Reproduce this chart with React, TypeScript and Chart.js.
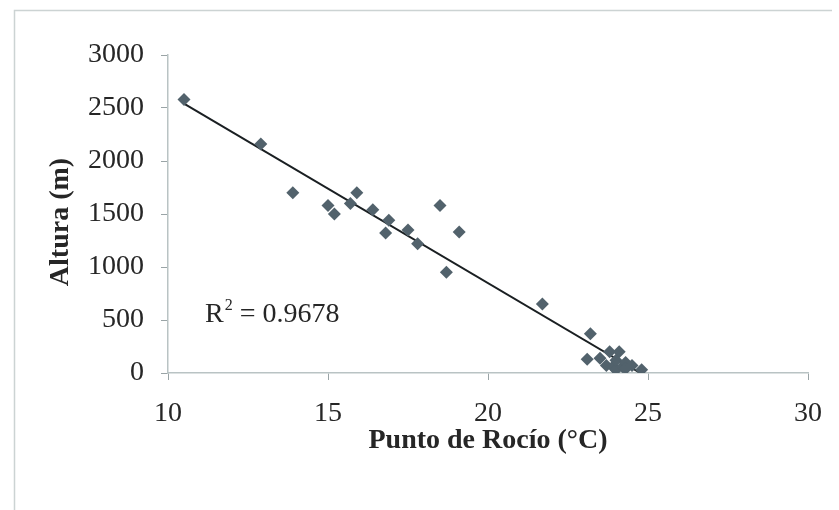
import React, { useEffect, useRef } from "react";
import { Chart, registerables } from "chart.js";

Chart.register(...registerables);

// Dew point (°C) and altitude (m) of each station
const dewPoint = [
  10.5, 12.9, 13.9, 15.0, 15.2, 15.7, 15.9, 16.4, 16.9, 16.8, 17.5, 17.8,
  18.5, 18.7, 19.1, 21.7, 23.2, 23.1, 23.5, 23.8, 24.1, 23.7, 23.9, 24.0,
  24.0, 24.2, 24.3, 24.3, 24.5, 24.8,
];
const altitude = [
  2580, 2160, 1700, 1580, 1500, 1600, 1700, 1540, 1440, 1320, 1350, 1220,
  1580, 950, 1330, 650, 370, 130, 140, 200, 200, 70, 60, 30, 120, 60, 100,
  40, 70, 30,
];

const xTicks = [10, 15, 20, 25, 30];
const yTicks = [0, 500, 1000, 1500, 2000, 2500, 3000];
const rSquaredText = "0.9678";
const xTitle = "Punto de Rocío (°C)";
const yTitle = "Altura (m)";

const W = 839;
const H = 510;
const SERIF = "'Liberation Serif', 'Times New Roman', serif";
const TEXT = "#262626";

// Least-squares linear trend through the stations
function linearFit(xs: number[], ys: number[]) {
  const n = xs.length;
  const mx = xs.reduce((a, b) => a + b, 0) / n;
  const my = ys.reduce((a, b) => a + b, 0) / n;
  let sxy = 0;
  let sxx = 0;
  for (let i = 0; i < n; i++) {
    sxy += (xs[i] - mx) * (ys[i] - my);
    sxx += (xs[i] - mx) * (xs[i] - mx);
  }
  const slope = sxy / sxx;
  return { slope, intercept: my - slope * mx };
}

const framePlugin = {
  id: "frame",
  beforeDraw(chart: any) {
    const ctx = chart.ctx;
    ctx.save();
    ctx.fillStyle = "#ffffff";
    ctx.fillRect(0, 0, W, H);
    ctx.strokeStyle = "#ccd3d3";
    ctx.lineWidth = 1.5;
    ctx.beginPath();
    ctx.moveTo(14.5, H);
    ctx.lineTo(14.5, 10.5);
    ctx.lineTo(832, 10.5);
    ctx.stroke();
    ctx.restore();
  },
  afterDraw(chart: any) {
    const ctx = chart.ctx;
    const area = chart.chartArea;
    ctx.save();
    ctx.fillStyle = TEXT;
    // axis titles
    ctx.font = `bold 28px ${SERIF}`;
    ctx.textAlign = "center";
    ctx.textBaseline = "middle";
    ctx.fillText(xTitle, (area.left + area.right) / 2, 441);
    ctx.save();
    ctx.translate(61, 222);
    ctx.rotate(-Math.PI / 2);
    ctx.fillText(yTitle, 0, 0);
    ctx.restore();
    // coefficient of determination
    ctx.font = `28px ${SERIF}`;
    ctx.textAlign = "left";
    ctx.textBaseline = "alphabetic";
    let x = 205;
    const base = 322;
    ctx.fillText("R", x, base);
    x += ctx.measureText("R").width;
    ctx.font = `16px ${SERIF}`;
    ctx.fillText("2", x + 1, base - 12);
    x += ctx.measureText("2").width + 1;
    ctx.font = `28px ${SERIF}`;
    ctx.fillText(" = " + rSquaredText, x, base);
    ctx.restore();
  },
};

export default function App() {
  const canvasRef = useRef<HTMLCanvasElement | null>(null);

  useEffect(() => {
    const canvas = canvasRef.current;
    if (!canvas) return;
    const { slope, intercept } = linearFit(dewPoint, altitude);
    const xMin = Math.min(...dewPoint);
    const xMax = Math.max(...dewPoint);
    const trend = [
      { x: xMin, y: intercept + slope * xMin },
      { x: xMax, y: intercept + slope * xMax },
    ];
    const points = dewPoint.map((x, i) => ({ x, y: altitude[i] }));

    const chart = new Chart(canvas, {
      type: "scatter",
      data: {
        datasets: [
          {
            data: trend,
            showLine: true,
            borderColor: "#1a1f22",
            borderWidth: 2,
            pointRadius: 0,
            order: 2,
          },
          {
            data: points,
            pointStyle: "rectRot",
            pointRadius: 6.5,
            backgroundColor: "#52626c",
            borderColor: "#52626c",
            borderWidth: 0,
            order: 1,
          },
        ],
      },
      options: {
        responsive: false,
        animation: false,
        events: [],
        layout: { padding: { left: 0, top: 55, right: W - 808, bottom: 0 } },
        plugins: {
          legend: { display: false },
          tooltip: { enabled: false },
        },
        scales: {
          x: {
            type: "linear",
            min: 10,
            max: 30,
            afterBuildTicks: (s: any) => {
              s.ticks = xTicks.map((v) => ({ value: v }));
            },
            afterFit: (s: any) => {
              s.height = H - 373;
            },
            border: { color: "#b9c3c4", width: 1.5 },
            grid: {
              drawOnChartArea: false,
              drawTicks: true,
              tickLength: 7,
              color: "#9aa4a6",
            },
            ticks: {
              padding: 17,
              color: TEXT,
              font: { family: SERIF, size: 28 },
              callback: (v: any) => String(v),
            },
          },
          y: {
            type: "linear",
            min: 0,
            max: 3000,
            afterBuildTicks: (s: any) => {
              s.ticks = yTicks.map((v) => ({ value: v }));
            },
            afterFit: (s: any) => {
              s.width = 168;
            },
            border: { color: "#b9c3c4", width: 1.5 },
            grid: {
              drawOnChartArea: false,
              drawTicks: true,
              tickLength: 7,
              color: "#9aa4a6",
            },
            ticks: {
              padding: 17,
              color: TEXT,
              font: { family: SERIF, size: 28 },
              callback: (v: any) => String(v),
            },
          },
        },
      },
      plugins: [framePlugin],
    });
    return () => chart.destroy();
  }, []);

  return (
    <div
      style={{
        position: "fixed",
        left: 0,
        top: 0,
        width: W,
        height: H,
        background: "#fff",
      }}
    >
      <canvas ref={canvasRef} width={W} height={H} />
    </div>
  );
}
